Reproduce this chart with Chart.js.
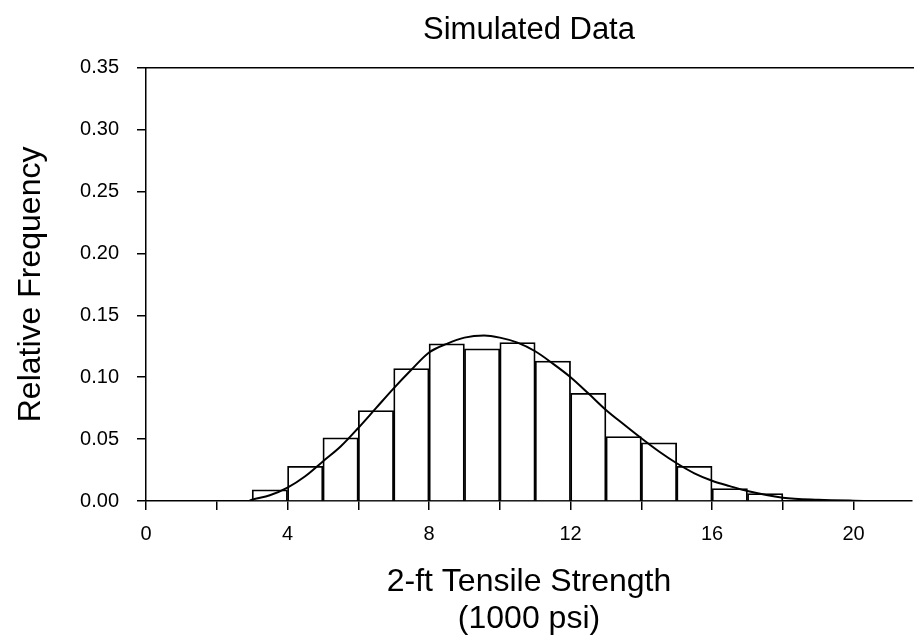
<!DOCTYPE html>
<html>
<head>
<meta charset="utf-8">
<title>Simulated Data</title>
<script src="https://cdn.jsdelivr.net/npm/chart.js@4.4.1/dist/chart.umd.min.js"></script>
<style>
  html, body { margin: 0; padding: 0; background: #fff; }
  #wrap { width: 914px; height: 639px; }
</style>
</head>
<body>
<div id="wrap"><canvas id="chart" width="914" height="639"></canvas></div>
<script>
// histogram bins (lower edge, 1000 psi) and relative frequencies
const binStarts = [3, 4, 5, 6, 7, 8, 9, 10, 11, 12, 13, 14, 15, 16, 17];
const binFreq = [0.009, 0.028, 0.051, 0.073, 0.107, 0.127, 0.123, 0.128, 0.113, 0.087, 0.052, 0.047, 0.028, 0.010, 0.006];

// fitted density curve
const curveX = [2.9, 3, 3.5, 4, 4.5, 5, 5.5, 6, 6.5, 7, 7.5, 8, 8.5, 9, 9.56, 10, 10.5, 11, 11.5, 12, 12.5, 13, 13.5, 14, 14.5, 15, 15.5, 16, 16.5, 17, 18, 19, 20, 21, 21.65];
const curveY = [0, 0.001, 0.0046, 0.0108, 0.020, 0.032, 0.044, 0.059, 0.075, 0.091, 0.106, 0.120, 0.127, 0.132, 0.1337, 0.132, 0.128, 0.121, 0.111, 0.100, 0.087, 0.0736, 0.062, 0.0507, 0.040, 0.0305, 0.0224, 0.0164, 0.012, 0.008, 0.0027, 0.001, 0.0003, 0, 0];

const yTicks = [0, 0.05, 0.10, 0.15, 0.20, 0.25, 0.30, 0.35];
const xLabelled = [0, 4, 8, 12, 16, 20];

const FONT = "'Liberation Sans', Arial, Helvetica, sans-serif";
Chart.defaults.font.family = FONT;
Chart.defaults.color = "#000";

// top frame line
const topLine = {
  id: "topLine",
  afterDraw(chart) {
    const { ctx, chartArea } = chart;
    ctx.save();
    ctx.strokeStyle = "#000";
    ctx.lineWidth = 1.5;
    ctx.beginPath();
    ctx.moveTo(chartArea.left, chartArea.top);
    ctx.lineTo(chartArea.right + 2, chartArea.top);
    ctx.stroke();
    ctx.restore();
  }
};

const bars = binStarts.map((s, i) => ({ x: s + 0.5, y: binFreq[i] }));
const curve = curveX.map((x, i) => ({ x: x, y: curveY[i] }));

new Chart(document.getElementById("chart"), {
  type: "bar",
  data: {
    datasets: [
      {
        type: "line",
        data: curve,
        borderColor: "#000",
        borderWidth: 2,
        pointRadius: 0,
        cubicInterpolationMode: "monotone",
        fill: false,
        order: 0
      },
      {
        type: "bar",
        data: bars,
        backgroundColor: "#fff",
        borderColor: "#000",
        borderWidth: 1.8,
        borderSkipped: "bottom",
        barPercentage: 1,
        categoryPercentage: 1,
        order: 1
      }
    ]
  },
  options: {
    responsive: false,
    animation: false,
    events: [],
    layout: { padding: { top: 0, left: 0, right: 2, bottom: 0 } },
    plugins: {
      legend: { display: false },
      tooltip: { enabled: false },
      title: {
        display: true,
        text: "Simulated Data",
        fullSize: false,
        color: "#000",
        font: { size: 31, weight: "normal", family: FONT, lineHeight: 1.2 },
        padding: { top: 12, bottom: 18.6 }
      }
    },
    scales: {
      x: {
        type: "linear",
        min: 0,
        max: 21.65,
        offset: false,
        grid: { display: true, offset: false, drawOnChartArea: false, drawTicks: true, tickLength: 9, color: "#000", lineWidth: 1.5 },
        border: { display: true, color: "#000", width: 1.5 },
        ticks: {
          stepSize: 2,
          autoSkip: false,
          includeBounds: false,
          maxRotation: 0,
          padding: 12,
          font: { size: 20 },
          color: "#000",
          callback: (v) => (xLabelled.includes(v) ? String(v) : "")
        },
        title: {
          display: true,
          text: ["2-ft Tensile Strength", "(1000 psi)"],
          color: "#000",
          font: { size: 32, lineHeight: 1.16 },
          padding: { top: 0, bottom: 1 }
        },
        afterFit(scale) { scale.height = 138; }
      },
      y: {
        min: 0,
        max: 0.35,
        grid: { display: true, drawOnChartArea: false, drawTicks: true, tickLength: 9, color: "#000", lineWidth: 1.5 },
        border: { display: true, color: "#000", width: 1.5 },
        afterBuildTicks(scale) { scale.ticks = yTicks.map((v) => ({ value: v })); },
        ticks: {
          padding: 18,
          font: { size: 20 },
          color: "#000",
          callback: (v) => Number(v).toFixed(2)
        },
        title: {
          display: true,
          text: "Relative Frequency",
          color: "#000",
          font: { size: 32, lineHeight: 1.2 },
          padding: { top: 12, bottom: 0 }
        },
        afterFit(scale) { scale.width = 146; }
      }
    }
  },
  plugins: [topLine]
});
</script>
</body>
</html>
